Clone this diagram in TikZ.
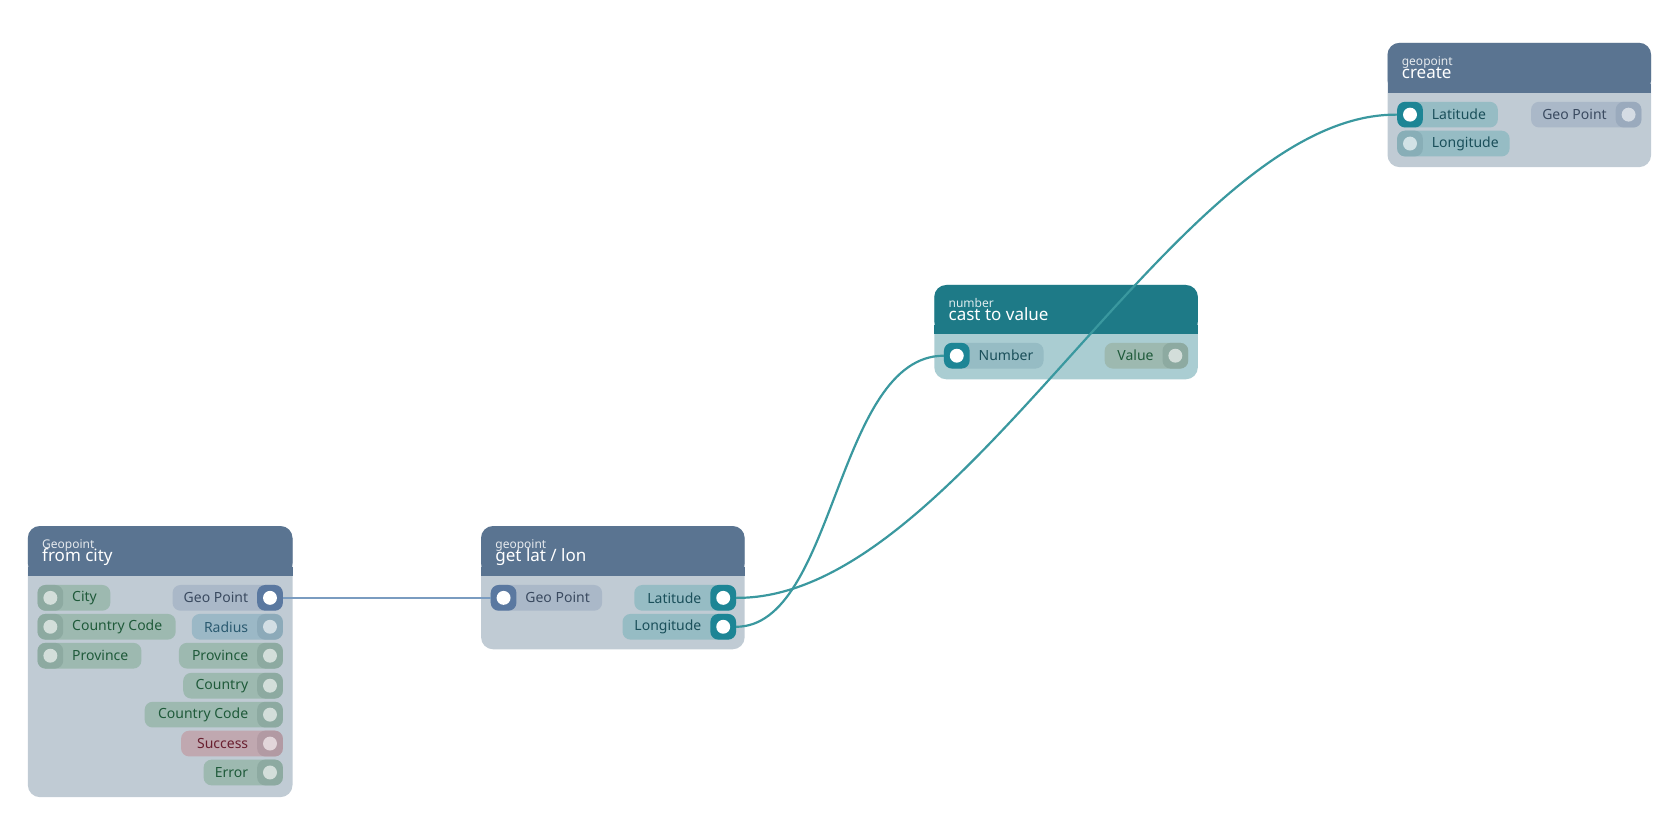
\documentclass[tikz,border=0pt]{standalone}
\usepackage{fontspec}
\setmainfont{Noto Sans}
\usetikzlibrary{calc}

% node colours
\definecolor{hdr}{HTML}{5A7491}
\definecolor{hdrnum}{HTML}{1E7A87}
\definecolor{bdy}{HTML}{C0CBD4}
\definecolor{bdynum}{HTML}{AACDD2}
\definecolor{wire}{HTML}{3A989F}
\definecolor{wiregeo}{HTML}{7A9CC0}
% pill colours: P pill, Q port, D dot, T text
\definecolor{gP}{HTML}{9DB9B0}\definecolor{gQ}{HTML}{8DAAA1}\definecolor{gD}{HTML}{D3DEDA}\definecolor{gT}{HTML}{1F5A3A}
\definecolor{bP}{HTML}{AAB8C8}\definecolor{bQ}{HTML}{9AAABD}\definecolor{bD}{HTML}{D5DCE4}\definecolor{bT}{HTML}{3A4A60}
\definecolor{abP}{HTML}{AAB8C8}\definecolor{abQ}{HTML}{5A78A0}\definecolor{abD}{HTML}{FFFFFF}\definecolor{abT}{HTML}{3A4A60}
\definecolor{rP}{HTML}{9BB8C6}\definecolor{rQ}{HTML}{8CAAB9}\definecolor{rD}{HTML}{D2DEE4}\definecolor{rT}{HTML}{2A5A70}
\definecolor{sP}{HTML}{C0A8B0}\definecolor{sQ}{HTML}{B29AA3}\definecolor{sD}{HTML}{E2D6DA}\definecolor{sT}{HTML}{6A2030}
\definecolor{tP}{HTML}{96BCC4}\definecolor{tQ}{HTML}{88AEB7}\definecolor{tD}{HTML}{D2E2E6}\definecolor{tT}{HTML}{1A4F5A}
\definecolor{atP}{HTML}{96BCC4}\definecolor{atQ}{HTML}{1D8595}\definecolor{atD}{HTML}{FFFFFF}\definecolor{atT}{HTML}{1A4F5A}

\newcommand{\lbl}{\fontsize{7}{8}\selectfont}
% input pin: name, x1, x2, y, kind, label
\newcommand{\inpin}[6]{%
  \fill[#5P, rounded corners=4] (#2,#4-12) rectangle (#3,#4+12);
  \fill[#5Q, rounded corners=4] (#2,#4-12) rectangle (#2+24,#4+12);
  \fill[#5D] (#2+12,#4) circle (6.5);
  \coordinate (#1) at (#2,#4);
  \node[anchor=west, text=#5T, font=\lbl, inner sep=0] (#1-l) at (#2+32,#4) {#6};
}
% output pin: name, x1, x2, y, kind, label
\newcommand{\outpin}[6]{%
  \fill[#5P, rounded corners=4] (#2,#4-12) rectangle (#3,#4+12);
  \fill[#5Q, rounded corners=4] (#3-24,#4-12) rectangle (#3,#4+12);
  \fill[#5D] (#3-12,#4) circle (6.5);
  \coordinate (#1) at (#3,#4);
  \node[anchor=east, text=#5T, font=\lbl, inner sep=0] (#1-l) at (#3-32,#4) {#6};
}
% card: name, x1, x2, y top, y header, y bottom, header colour, body colour, kind
\newcommand{\card}[9]{%
  \fill[#8, rounded corners=6] (#2,#4) rectangle (#3,#6);
  \fill[#7, rounded corners=6] (#2,#4) rectangle (#3,#5);
  \fill[#7] (#2,#5-8) rectangle (#3,#5+0.4);
  \node[anchor=base west, text=white!85!#7, font=\fontsize{6}{7}\selectfont, inner sep=0] (#1-k) at (#2+13,#4+21) {#9};
}

\begin{document}
\begin{tikzpicture}[x=0.5357pt, y=-0.5357pt]
  \useasboundingbox (0,0) rectangle (1568,784);

  % Geopoint from city
  \card{city}{26}{273}{491}{537}{744}{hdr}{bdy}{Geopoint}
  \node[anchor=base west, text=white, font=\fontsize{8.5}{9}\selectfont, inner sep=0] (city-t) at (39,524) {from city};
  \inpin{cityIn}{35}{103}{558}{g}{City}
  \inpin{ccIn}{35}{164}{585}{g}{Country Code}
  \inpin{provIn}{35}{132}{612}{g}{Province}
  \outpin{geoOut}{161}{264}{558}{ab}{Geo Point}
  \outpin{radOut}{179}{264}{585}{r}{Radius}
  \outpin{provOut}{167}{264}{612}{g}{Province}
  \outpin{ctryOut}{171}{264}{640}{g}{Country}
  \outpin{ccOut}{135}{264}{667}{g}{Country Code}
  \outpin{succOut}{169}{264}{694}{s}{Success}
  \outpin{errOut}{190}{264}{721}{g}{Error}

  % geopoint get lat / lon
  \card{latlon}{449}{695}{491}{537}{606}{hdr}{bdy}{geopoint}
  \node[anchor=base west, text=white, font=\fontsize{8.5}{9}\selectfont, inner sep=0] (latlon-t) at (462,524) {get lat / lon};
  \inpin{geoIn}{458}{562}{558}{ab}{Geo Point}
  \outpin{latOut}{592}{687}{558}{at}{Latitude}
  \outpin{lonOut}{581}{687}{585}{at}{Longitude}

  % number cast to value
  \card{cast}{872}{1118}{266}{311}{354}{hdrnum}{bdynum}{number}
  \node[anchor=base west, text=white, font=\fontsize{8.5}{9}\selectfont, inner sep=0] (cast-t) at (885,299) {cast to value};
  \inpin{numIn}{881}{974}{332}{at}{Number}
  \outpin{valOut}{1031}{1109}{332}{g}{Value}

  % geopoint create
  \card{create}{1295}{1541}{40}{86}{156}{hdr}{bdy}{geopoint}
  \node[anchor=base west, text=white, font=\fontsize{8.5}{9}\selectfont, inner sep=0] (create-t) at (1308,73) {create};
  \inpin{latIn}{1304}{1398}{107}{at}{Latitude}
  \inpin{lonIn}{1304}{1409}{134}{t}{Longitude}
  \outpin{gpOut}{1429}{1532}{107}{b}{Geo Point}

  % Wires
  \draw[wiregeo, line width=1.1] (geoOut) -- (geoIn);
  \draw[wire, line width=1.1] (latOut) .. controls (900,560) and (1100,105) .. (latIn);
  \draw[wire, line width=1.1] (lonOut) .. controls (780,585) and (780,332) .. (numIn);
\end{tikzpicture}
\end{document}
